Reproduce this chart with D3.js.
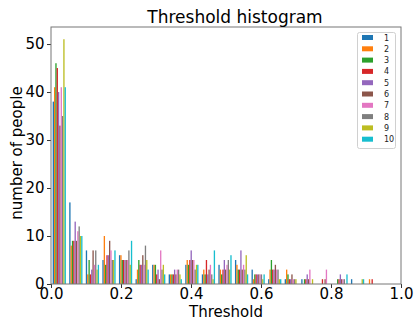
<!DOCTYPE html>
<html><head><meta charset="utf-8">
<script src="https://cdn.jsdelivr.net/npm/d3@7"></script>
<style>body{margin:0;background:#fff}svg{display:block}text{font-family:"DejaVu Sans",sans-serif}</style>
</head><body>
<script>
const seriesNames = ["1","2","3","4","5","6","7","8","9","10"];
const colors = ["#1f77b4","#ff7f0e","#2ca02c","#d62728","#9467bd","#8c564b","#e377c2","#7f7f7f","#bcbd22","#17becf"];
const binCount = 20;
const dataMin = 0, dataMax = 0.947;
const s1 = [38,17,7,5,6,1,4,2,4,2,4,5,3,1,1,1,0,0,1,0];
const s2 = [41,8,2,10,6,3,4,2,5,3,3,4,1,3,3,0,0,0,0,1];
const s3 = [46,9,5,4,5,5,4,2,4,2,2,3,2,5,2,1,0,1,0,0];
const s4 = [45,9,2,6,5,4,2,2,5,5,3,3,2,3,1,1,1,1,0,1];
const s5 = [40,13,3,6,5,4,3,3,7,2,5,7,2,3,1,2,0,2,0,0];
const s6 = [33,9,7,9,5,6,1,2,5,3,3,3,2,4,2,1,1,1,0,0];
const s7 = [41,11,4,7,5,4,7,3,5,4,4,4,2,3,1,3,3,1,0,0];
const s8 = [35,12,7,5,7,8,3,3,3,2,5,3,2,3,1,0,0,1,0,0];
const s9 = [51,10,3,5,4,5,4,2,4,1,3,6,1,1,1,1,0,0,1,0];
const s10 = [41,10,4,7,9,3,2,1,4,7,6,2,2,1,0,0,0,2,1,0];
const series = [s1,s2,s3,s4,s5,s6,s7,s8,s9,s10];
const xTicks = [0,0.2,0.4,0.6,0.8,1.0];
const yTicks = [0,10,20,30,40,50];

const W = 414, H = 322;
const L = 51, R = 401, T = 27, B = 284;
const svg = d3.select("body").append("svg").attr("width", W).attr("height", H);
const x = d3.scaleLinear().domain([0, 1]).range([L, R]);
const yMax = d3.max(series.flat()) * 1.05;
const y = d3.scaleLinear().domain([0, yMax]).range([B, T]);

const bw = (dataMax - dataMin) / binCount;
const edges = d3.range(binCount).map(i => dataMin + i * bw);
const dw = bw * 0.8 / series.length;

series.forEach((vals, si) => {
  svg.append("g").selectAll("rect").data(vals).join("rect")
    .attr("x", (v, i) => x(edges[i] + bw * 0.1 + si * dw))
    .attr("width", x(dw) - x(0))
    .attr("y", v => y(v))
    .attr("height", v => y(0) - y(v))
    .attr("fill", colors[si]);
});

// axes
const xAxis = d3.axisBottom(x).tickValues(xTicks).tickFormat(d3.format(".1f")).tickSize(4).tickPadding(0.5);
const gx = svg.append("g").attr("transform", `translate(0,${B})`).call(xAxis);
gx.select(".domain").remove();
gx.selectAll("text").attr("font-size", 15).attr("fill", "#000").attr("font-family", "DejaVu Sans");
gx.selectAll("line").attr("stroke", "#333");
const yAxis = d3.axisLeft(y).tickValues(yTicks).tickSize(4).tickPadding(2.5);
const gy = svg.append("g").attr("transform", `translate(${L},0)`).call(yAxis);
gy.select(".domain").remove();
gy.selectAll("text").attr("font-size", 15).attr("fill", "#000").attr("font-family", "DejaVu Sans");
gy.selectAll("line").attr("stroke", "#333");

// frame
svg.append("rect").attr("x", L).attr("y", T).attr("width", R - L).attr("height", B - T)
  .attr("fill", "none").attr("stroke", "#777").attr("stroke-width", 1);

// labels
svg.append("text").attr("x", 235).attr("y", 23).attr("text-anchor", "middle")
  .attr("font-size", 17).text("Threshold histogram");
svg.append("text").attr("x", (L + R) / 2).attr("y", 316.5).attr("text-anchor", "middle")
  .attr("font-size", 15).text("Threshold");
svg.append("text").attr("transform", `translate(22,153) rotate(-90)`).attr("text-anchor", "middle")
  .attr("font-size", 15).text("number of people");

// legend
const lg = svg.append("g");
lg.append("rect").attr("x", 357.5).attr("y", 32.5).attr("width", 38).attr("height", 116).attr("rx", 2)
  .attr("fill", "#fff").attr("stroke", "#d0d0d0");
seriesNames.forEach((n, i) => {
  const cy = 37.5 + i * 11.3;
  lg.append("rect").attr("x", 362).attr("y", cy - 2.5).attr("width", 11).attr("height", 5).attr("fill", colors[i]);
  lg.append("text").attr("x", 384).attr("y", cy + 3).attr("font-size", 8).attr("fill", "#222").text(n);
});
</script>
</body></html>
